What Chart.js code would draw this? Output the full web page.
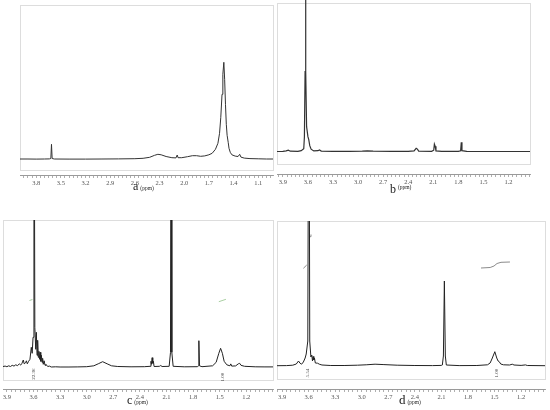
<!DOCTYPE html>
<html><head><meta charset="utf-8">
<script src="https://cdn.jsdelivr.net/npm/chart.js@4"></script>
<style>
body{margin:0;background:#fff;width:550px;height:410px;position:relative;overflow:hidden;font-family:"Liberation Serif",serif}
canvas{position:absolute}
.box{position:absolute;border:1px solid #ddd;box-sizing:border-box}
.lbl{position:absolute;display:flex;align-items:baseline;color:#222;white-space:nowrap;line-height:12px}
.lbl .l{font-size:12px}
.lbl .u{font-size:5.5px;margin-left:2px}
.int{position:absolute;font-size:5px;color:#444;white-space:nowrap;line-height:5px;transform:translate(-50%,-50%) rotate(-90deg)}
</style></head><body>
<div class="box" style="left:20px;top:5px;width:254px;height:166px"></div>
<div class="box" style="left:277px;top:3px;width:254px;height:162px"></div>
<div class="box" style="left:3px;top:220px;width:271px;height:161px"></div>
<div class="box" style="left:277px;top:221px;width:269px;height:159px"></div>
<canvas id="ca"></canvas><canvas id="cb"></canvas><canvas id="cc"></canvas><canvas id="cd"></canvas>
<div class="lbl" style="left:133px;top:180px"><span class="l">a</span><span class="u">(ppm)</span></div>
<div class="lbl" style="left:390px;top:183px"><span class="l">b</span><span class="u" style="position:relative;top:-4px">(ppm)</span></div>
<div class="lbl" style="left:127px;top:394px"><span class="l">c</span><span class="u">(ppm)</span></div>
<div class="lbl" style="left:399px;top:394px"><span class="l" style="font-size:13px">d</span><span class="u">(ppm)</span></div>
<div class="int" style="left:33px;top:374px">22.36</div>
<div class="int" style="left:222px;top:377px">1.00</div>
<div class="int" style="left:307px;top:373px">5.54</div>
<div class="int" style="left:496px;top:373px">1.00</div>
<script>
// ---- tick labels (ppm) ----
const ticksA = [3.8, 3.5, 3.2, 2.9, 2.6, 2.3, 2.0, 1.7, 1.4, 1.1];
const ticksBCD = [3.9, 3.6, 3.3, 3.0, 2.7, 2.4, 2.1, 1.8, 1.5, 1.2];

// ---- spectrum a ----
const ppmA = [3.997,3.90,3.80,3.70,3.64,3.622,3.614,3.606,3.58,3.40,3.20,3.00,2.80,2.60,2.50,2.42,2.36,2.32,2.28,2.22,2.15,2.10,2.085,2.075,2.03,1.96,1.90,1.85,1.80,1.75,1.70,1.66,1.62,1.59,1.57,1.555,1.54,1.53,1.518,1.508,1.498,1.488,1.478,1.465,1.455,1.44,1.42,1.38,1.345,1.325,1.31,1.27,1.20,1.10,1.00,0.92];
const intA = [0.3,0.3,0.2,0.3,0.4,0.8,15,0.8,0.3,0.2,0.2,0.3,0.4,0.6,1.0,2.0,4.0,5.0,4.5,2.8,1.6,1.4,4.3,1.6,1.6,2.6,3.6,3.6,3.0,3.4,4.5,6,10,16,26,42,65,85,97,80,55,35,24,17,11,7,4.5,3.2,2.8,5.0,2.2,1.2,0.7,0.5,0.3,0.3];

// ---- spectrum b ----
const ppmB = [3.97,3.90,3.86,3.835,3.81,3.72,3.68,3.65,3.642,3.634,3.629,3.624,3.616,3.600,3.590,3.578,3.562,3.53,3.48,3.462,3.44,3.30,3.10,2.95,2.89,2.82,2.60,2.40,2.33,2.305,2.29,2.275,2.12,2.095,2.087,2.078,2.068,2.00,1.80,1.773,1.765,1.757,1.70,1.50,1.20,0.943];
const intB = [0.2,0.3,0.8,1.6,0.5,0.4,1.0,3,15,80,600,80,25,15,12,6,2.5,0.8,1.0,1.8,0.6,0.3,0.4,0.6,0.9,0.5,0.3,0.3,0.8,3.4,2.6,0.6,0.4,1.5,7.6,5.5,0.8,0.3,0.3,1,9.5,1,0.3,0.2,0.2,0.2];

// ---- spectrum c ----
const ppmC = [3.944,3.92,3.90,3.88,3.86,3.84,3.82,3.80,3.78,3.76,3.745,3.73,3.715,3.705,3.69,3.68,3.67,3.655,3.64,3.625,3.615,3.605,3.595,3.585,3.575,3.568,3.56,3.553,3.546,3.539,3.532,3.525,3.518,3.511,3.504,3.497,3.49,3.48,3.47,3.46,3.44,3.42,3.40,3.35,3.30,3.20,3.10,3.00,2.92,2.87,2.82,2.77,2.72,2.65,2.50,2.35,2.285,2.275,2.27,2.262,2.255,2.248,2.24,2.18,2.165,2.15,2.07,2.055,2.048,2.04,2.025,1.90,1.75,1.74,1.735,1.728,1.70,1.58,1.54,1.51,1.49,1.47,1.45,1.42,1.385,1.375,1.365,1.32,1.29,1.275,1.26,1.22,1.10,1.00,0.899];
const intC = [0.8,1.2,0.6,1.5,0.8,2,1.2,2.5,1.6,3.5,2.2,4,7.3,3.5,4.5,6.5,3.5,6,8,20,14,30,400,40,18,35,12,27,10,16,8,15,6,12,5,9,3,6.5,2,3,0.8,1.2,0.3,0.5,0.3,0.3,0.4,0.6,1.5,3.5,5.6,3.5,1.5,0.8,0.5,0.6,1,6,3,9.6,4,6,0.8,1.0,1.8,0.8,1,15,400,15,1,0.5,0.6,1.5,26.6,1.5,0.6,1.5,5,14,19,14,6,2.5,1.5,3.4,1.2,1.4,3.5,4,2,1,0.5,0.4,0.4];

// ---- spectrum d ----
const ppmD = [3.958,3.85,3.78,3.74,3.715,3.70,3.68,3.66,3.64,3.628,3.61,3.598,3.588,3.575,3.565,3.557,3.55,3.542,3.535,3.525,3.50,3.48,3.45,3.35,3.20,3.05,2.95,2.85,2.75,2.60,2.40,2.20,2.10,2.09,2.078,2.067,2.056,2.045,1.90,1.70,1.58,1.55,1.525,1.497,1.475,1.46,1.447,1.43,1.40,1.33,1.30,1.28,1.20,1.15,1.13,0.93];
const intD = [0.3,0.4,0.8,2,5,3,1.8,4,8,12,25,400,25,9,11,5,9.5,6,8,3,2.8,1.8,1,0.5,0.5,0.8,1.2,1.8,1.4,0.8,0.5,0.4,0.6,1,10,85,10,1,0.4,0.5,1.2,3,8,14.3,8,5,4.3,2,1.2,1,1.8,1,0.6,1.1,0.5,0.3];

// ---- integral traces ----
const integC_ppm = [3.645,3.612,2.5,1.51,1.43];
const integC_val = [66.8,67.8,null,65.6,68.0];
const integD_ppm = [3.66,3.622,3.6,3.585,3.574,3.0,1.653,1.55,1.506,1.472,1.427,1.326];
const integD_val = [97.7,101,null,129.3,131.5,null,98,98.5,100,102.5,103.7,104];

const pts = (xs, ys) => xs.map((x, i) => ({x: x, y: ys[i]}));

function panel(id, L, spectra, majors) {
  const cv = document.getElementById(id);
  const w = L.right - L.left + 20, h = L.axisY - L.top + 12;
  cv.width = w; cv.height = h;
  cv.style.left = (L.left - 10) + 'px'; cv.style.top = L.top + 'px';
  cv.style.width = w + 'px'; cv.style.height = h + 'px';
  const step = 0.05;
  new Chart(cv, {
    type: 'line',
    data: { datasets: spectra.map(s => ({
      data: s.data, borderColor: s.color, borderWidth: s.width, pointRadius: 0,
      tension: 0, spanGaps: false, fill: false
    })) },
    options: {
      responsive: false, animation: false, devicePixelRatio: 1,
      layout: { padding: { left: 10, right: 10, top: 0, bottom: 0 } },
      plugins: { legend: { display: false }, tooltip: { enabled: false } },
      scales: {
        x: {
          type: 'linear', reverse: true, min: L.xmin, max: L.xmax,
          afterBuildTicks: (sc) => {
            const t = [];
            const top = majors[0] + 0.3;
            for (let k = 0; k < 200; k++) {
              const v = Math.round((top - k * step) * 1000) / 1000;
              if (v >= L.xmin && v <= L.xmax) t.push({value: v});
            }
            sc.ticks = t;
          },
          afterFit: (sc) => { sc.height = 12; },
          border: { display: true, color: '#9a9a9a', width: 1, dash: [2, 1] },
          grid: { display: true, drawOnChartArea: false, drawTicks: true, tickLength: 3, color: '#9a9a9a', lineWidth: 0.8 },
          ticks: {
            autoSkip: false, maxRotation: 0, minRotation: 0, padding: 1, color: '#555',
            font: { family: 'Liberation Serif', size: 6.5, lineHeight: '8px' },
            callback: (v) => majors.some(m => Math.abs(m - v) < 1e-6) ? v.toFixed(1) : ''
          }
        },
        y: { display: false, min: L.base - L.axisY, max: L.base - L.top }
      }
    }
  });
}

const line = '#333';
panel('ca', {left: 20, right: 273, top: 5, axisY: 175, base: 159.3, xmin: 0.92, xmax: 3.997},
  [{data: pts(ppmA, intA), color: line, width: 1}], ticksA);
panel('cb', {left: 277, right: 530, top: 0, axisY: 174, base: 151.7, xmin: 0.943, xmax: 3.97},
  [{data: pts(ppmB, intB), color: line, width: 1.2}], ticksBCD);
panel('cc', {left: 3, right: 273, top: 220, axisY: 389, base: 367.3, xmin: 0.899, xmax: 3.944},
  [{data: pts(ppmC, intC), color: '#222', width: 1},
   {data: pts(integC_ppm, integC_val), color: '#a9cfa2', width: 1}], ticksBCD);
panel('cd', {left: 277, right: 545, top: 221, axisY: 389, base: 366, xmin: 0.93, xmax: 3.958},
  [{data: pts(ppmD, intD), color: '#222', width: 1},
   {data: pts(integD_ppm, integD_val), color: '#8a8a8a', width: 1}], ticksBCD);
</script>
</body></html>
